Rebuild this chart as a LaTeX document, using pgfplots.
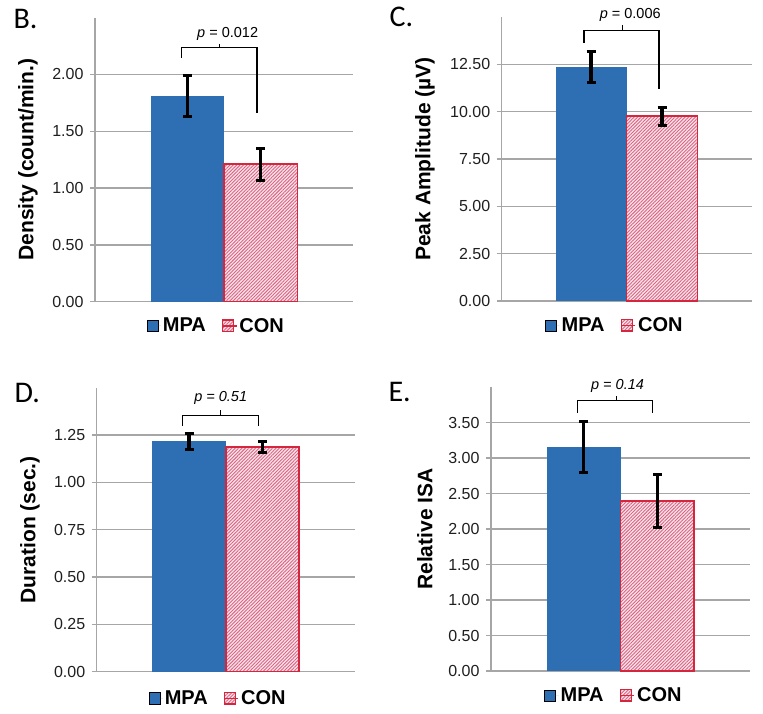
\documentclass[border=0pt]{standalone}
\usepackage{pgfplots}
\pgfplotsset{compat=1.18}
\usetikzlibrary{patterns.meta}
\usepackage{fontspec}
\setmainfont{Liberation Sans}
\newfontfamily\calibri{Carlito}
\definecolor{mpablue}{RGB}{46,110,178}
\definecolor{conred}{RGB}{214,38,62}
\definecolor{conpink}{RGB}{249,228,234}
\definecolor{hatch}{RGB}{218,100,132}
\definecolor{gridgray}{RGB}{166,166,166}
\tikzset{ptext/.style={font=\fontsize{14.5}{17}\selectfont}}
\pgfplotsset{
  panel/.style={
    scale only axis,
    anchor=south west,
    xmin=-1.76, xmax=1.76, ymin=0,
    xtick=\empty,
    axis x line*=bottom, axis y line*=left,
    axis line style={draw=gridgray, line width=1.3pt},
    ymajorgrids, grid style={draw=gridgray, line width=1.3pt},
    tick align=outside, major tick length=5pt,
    ytick style={draw=gridgray, line width=1.3pt},
    /pgf/number format/assume math mode=true,
    yticklabel style={xshift=-3pt, /pgf/number format/.cd, fixed, fixed zerofill, precision=2},
    tick label style={font=\fontsize{16}{19}\selectfont, text=black!88},
    ylabel style={font=\bfseries\fontsize{21}{25}\selectfont, anchor=center},
    legend columns=2,
    legend style={draw=none, fill=none, font=\bfseries\fontsize{20}{24}\selectfont, anchor=center,
      /tikz/every even column/.append style={column sep=14pt}},
    legend image code/.code={\draw[##1] (0pt,-5.5pt) rectangle (11pt,6pt); \path (0pt,0pt) -- (14pt,0pt);},
    clip=false,
  },
  errs/.style={
    error bars/y dir=both, error bars/y explicit,
    error bars/error bar style={line width=3.5pt, black},
    error bars/error mark options={rotate=90, black, mark size=4.5pt, line width=3pt}},
  mpa/.style={ybar, bar width=1, bar shift=0pt, fill=mpablue, draw=none, errs},
  con/.style={ybar, bar width=1, bar shift=0pt, preaction={fill=conpink},
    pattern={Lines[angle=45, distance=2.4pt, line width=0.9pt]}, pattern color=hatch,
    draw=conred, line width=1.5pt, errs},
  bracket/.style={black, line width=1.2pt, forget plot},
}
\begin{document}
\begin{tikzpicture}
\useasboundingbox (0pt,0pt) rectangle (763pt,714pt);
% Panel B
\begin{axis}[panel, at={(95pt,412.3pt)}, width=258pt, height=284pt, ymax=2.5,
  ytick={0,0.5,1,1.5,2}, ylabel={Density (count/min.)},
  ylabel style={at={(axis description cs:-0.26,0.5)}},
  legend style={at={(0.47,-0.085)}}]
\addplot[mpa] coordinates {(-0.5,1.81) +- (0,0.18)};
\addlegendentry{MPA}
\addplot[con, legend image post style={draw=none}] coordinates {(0.5,1.21) +- (0,0.14)};
\addlegendentry{CON}
\addplot[bracket] coordinates {(-0.58,2.148) (-0.58,2.235) (0.45,2.235) (0.45,1.66)};
\addplot[bracket] coordinates {(-0.06,2.235) (-0.06,2.27)};
\node[ptext] at (axis cs:0.05,2.36) {\textit{p} = 0.012};
\end{axis}
% Panel C
\begin{axis}[panel, at={(501.7pt,413pt)}, width=250pt, height=284pt, ymax=15,
  ytick={0,2.5,5,7.5,10,12.5}, ylabel={Peak Amplitude (µV)},
  ylabel style={at={(axis description cs:-0.307,0.5)}},
  legend style={at={(0.453,-0.087)}}]
\addplot[mpa] coordinates {(-0.5,12.36) +- (0,0.82)};
\addlegendentry{MPA}
\addplot[con, legend image post style={draw=none}] coordinates {(0.5,9.76) +- (0,0.47)};
\addlegendentry{CON}
\addplot[bracket] coordinates {(-0.60,13.65) (-0.60,14.3) (0.455,14.3) (0.455,11.18)};
\addplot[bracket] coordinates {(-0.056,14.3) (-0.056,14.57)};
\node[ptext] at (axis cs:0.05,15.1) {\textit{p} = 0.006};
\end{axis}
% Panel D
\begin{axis}[panel, at={(96.7pt,42.3pt)}, width=258.3pt, height=284pt, ymax=1.5,
  ytick={0,0.25,0.5,0.75,1,1.25}, ylabel={Duration (sec.)},
  ylabel style={at={(axis description cs:-0.258,0.5)}},
  legend style={at={(0.47,-0.094)}}]
\addplot[mpa] coordinates {(-0.5,1.216) +- (0,0.041)};
\addlegendentry{MPA}
\addplot[con] coordinates {(0.5,1.188) +- (0,0.03)};
\addlegendentry{CON}
\addplot[bracket] coordinates {(-0.59,1.299) (-0.59,1.355) (0.44,1.355) (0.44,1.299)};
\addplot[bracket] coordinates {(-0.07,1.355) (-0.07,1.382)};
\node[ptext] at (axis cs:-0.07,1.445) {\textit{p = 0.51}};
\end{axis}
% Panel E
\begin{axis}[panel, at={(491pt,43pt)}, width=259pt, height=284pt, ymax=4,
  ytick={0,0.5,1,1.5,2,2.5,3,3.5}, ylabel={Relative ISA},
  ylabel style={at={(axis description cs:-0.255,0.5)}},
  legend style={at={(0.475,-0.087)}}]
\addplot[mpa] coordinates {(-0.5,3.153) +- (0,0.36)};
\addlegendentry{MPA}
\addplot[con] coordinates {(0.5,2.396) +- (0,0.37)};
\addlegendentry{CON}
\addplot[bracket] coordinates {(-0.585,3.64) (-0.585,3.805) (0.44,3.805) (0.44,3.64)};
\addplot[bracket] coordinates {(-0.05,3.805) (-0.05,3.876)};
\node[ptext] at (axis cs:-0.04,4.02) {\textit{p = 0.14}};
\end{axis}
% panel letters
\node[anchor=west, font=\calibri\fontsize{30}{34}\selectfont] at (10pt,695pt) {B.};
\node[anchor=west, font=\calibri\fontsize{30}{34}\selectfont] at (386pt,697pt) {C.};
\node[anchor=west, font=\calibri\fontsize{30}{34}\selectfont] at (11pt,321pt) {D.};
\node[anchor=west, font=\calibri\fontsize{30}{34}\selectfont] at (385pt,322pt) {E.};
\end{tikzpicture}
\end{document}
